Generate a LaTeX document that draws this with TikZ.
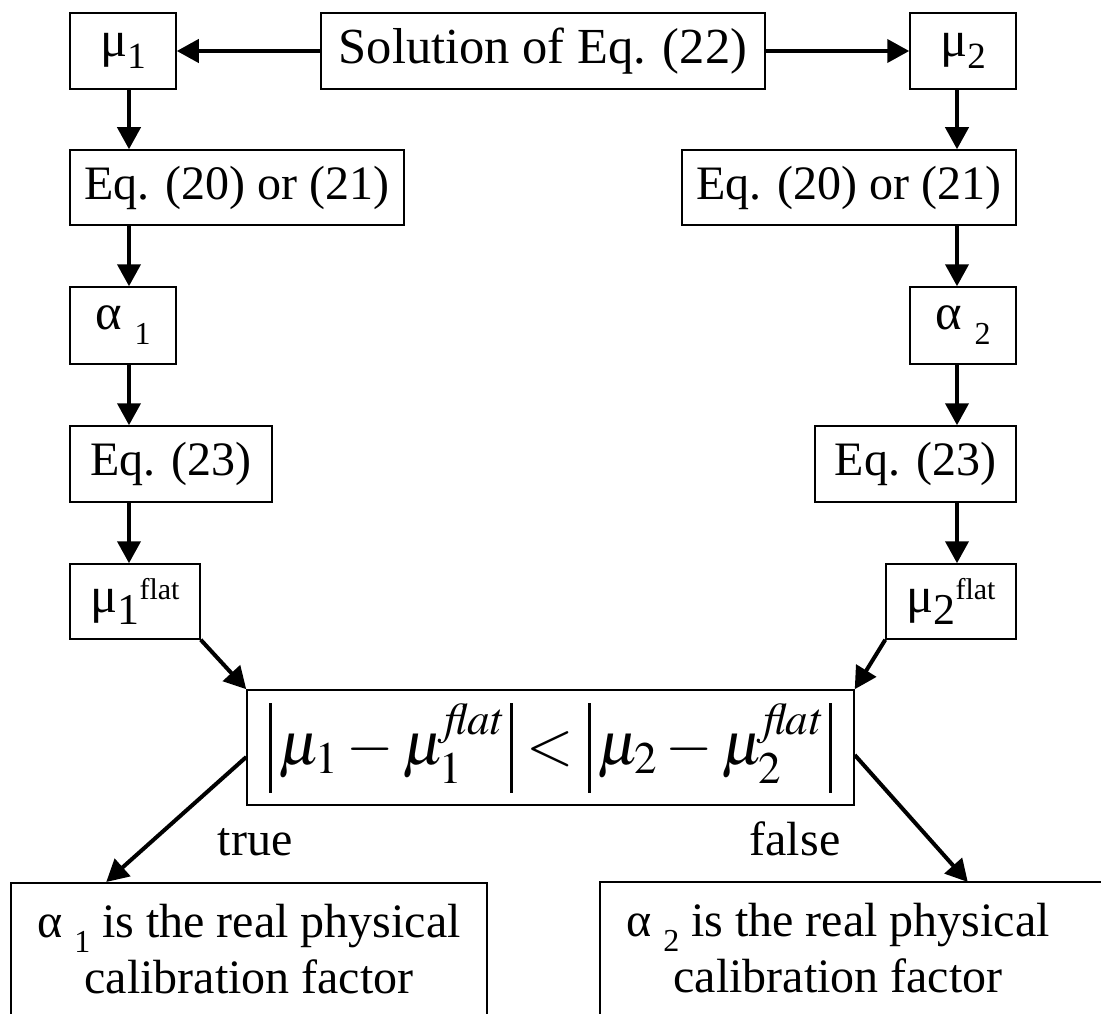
\documentclass[tikz,border=0pt]{standalone}
\usepackage{mathptmx}
\usepackage{fontspec}
\setmainfont{Liberation Serif}
\usetikzlibrary{arrows.meta,positioning,calc}
\newcommand{\sublo}[1]{\raisebox{-12pt}{\fontsize{37}{37}\selectfont #1}}
\newcommand{\subal}[1]{\raisebox{-15pt}{\fontsize{32}{32}\selectfont #1}}
\newcommand{\supfl}[1]{\raisebox{13pt}{\fontsize{30}{30}\selectfont #1}}
\newcommand{\absbar}{\rule[-28pt]{3pt}{90pt}}

\begin{document}
\begin{tikzpicture}[x=1pt,y=-1pt,
    box/.style={draw,line width=1.5pt,inner sep=0pt,minimum height=76pt},
    arr/.style={line width=4pt,-{Triangle[length=22pt,width=23pt]}},
    font=\fontsize{48}{56}\selectfont]
    \path[use as bounding box] (0,0) rectangle (1101,1014);
    \clip (0,0) rectangle (1101,1014);

    \node[box,minimum width=106pt] (mu1) at (123,51) {\fontsize{50.5}{56}\selectfont μ\sublo{1}};
    \node[box,minimum width=444pt] (sol) at (543,51) {\fontsize{50.5}{56}\selectfont Solution of Eq. (22)};
    \node[box,minimum width=106pt] (mu2) at (963,51) {\fontsize{50.5}{56}\selectfont μ\sublo{2}};

    \node[box,minimum width=334pt,minimum height=75pt] (eqa1) at (237,187.5) {Eq. (20) or (21)};
    \node[box,minimum width=334pt,minimum height=75pt] (eqa2) at (849,187.5) {Eq. (20) or (21)};
    \node[box,minimum width=106pt,minimum height=77pt] (al1) at (123,325.5) {\fontsize{50.5}{56}\selectfont α \subal{1}};
    \node[box,minimum width=106pt,minimum height=77pt] (al2) at (963,325.5) {\fontsize{50.5}{56}\selectfont α \subal{2}};
    \node[box,minimum width=202pt] (eqb1) at (171,464) {Eq. (23)};
    \node[box,minimum width=201pt] (eqb2) at (915.5,464) {Eq. (23)};
    \node[box,minimum width=130pt,minimum height=75pt] (fl1) at (135,601.5) {\fontsize{50.5}{56}\selectfont μ\raisebox{-12pt}{\fontsize{44}{44}\selectfont 1}\supfl{flat}};
    \node[box,minimum width=130pt,minimum height=75pt] (fl2) at (951,601.5) {\fontsize{50.5}{56}\selectfont μ\raisebox{-12pt}{\fontsize{44}{44}\selectfont 2}\supfl{flat}};

    \node[box,minimum width=607pt,minimum height=115pt] (cmp) at (550.5,747.5)
        {\fontsize{61}{61}\selectfont $\absbar\,\mu_1-\mu_1^{\mathit{flat}}\,\absbar<\absbar\,\mu_2-\mu_2^{\mathit{flat}}\,\absbar$};

    \node[box,anchor=north,minimum width=476pt,minimum height=172pt,align=center] (res1) at (249,882)
        {α \subal{1} is the real physical\\calibration factor\rule[-40pt]{0pt}{0pt}};
    \node[inner sep=0pt,anchor=north,minimum width=476pt,minimum height=172pt,align=center] (res2) at (838,882)
        {α \subal{2} is the real physical\\calibration factor\rule[-40pt]{0pt}{0pt}};
    \draw[line width=1.5pt] ([xshift=80pt]res2.north east) -- (res2.north west) -- (res2.south west);

    \node[anchor=base] (tlab) at (255,855) {true};
    \node[anchor=base] (flab) at (795,855) {false};

    \coordinate (lcol) at (129,0);
    \coordinate (rcol) at (957,0);

    \draw[arr] (sol.west) -- (mu1.east);
    \draw[arr] (sol.east) -- (mu2.west);

    \draw[arr] (mu1.south -| lcol) -- (eqa1.north -| lcol);
    \draw[arr] (eqa1.south -| lcol) -- (al1.north -| lcol);
    \draw[arr] (al1.south -| lcol) -- (eqb1.north -| lcol);
    \draw[arr] (eqb1.south -| lcol) -- (fl1.north -| lcol);
    \draw[arr] (mu2.south -| rcol) -- (eqa2.north -| rcol);
    \draw[arr] (eqa2.south -| rcol) -- (al2.north -| rcol);
    \draw[arr] (al2.south -| rcol) -- (eqb2.north -| rcol);
    \draw[arr] (eqb2.south -| rcol) -- (fl2.north -| rcol);

    \draw[arr] (fl1.south east) -- (cmp.north west);
    \draw[arr] (fl2.south west) -- (cmp.north east);
    \draw[arr] ([yshift=-9.5pt]cmp.west) -- ([xshift=96pt]res1.north west);
    \draw[arr] ([yshift=-7.5pt]cmp.east) -- ([xshift=368pt]res2.north west);
\end{tikzpicture}
\end{document}
